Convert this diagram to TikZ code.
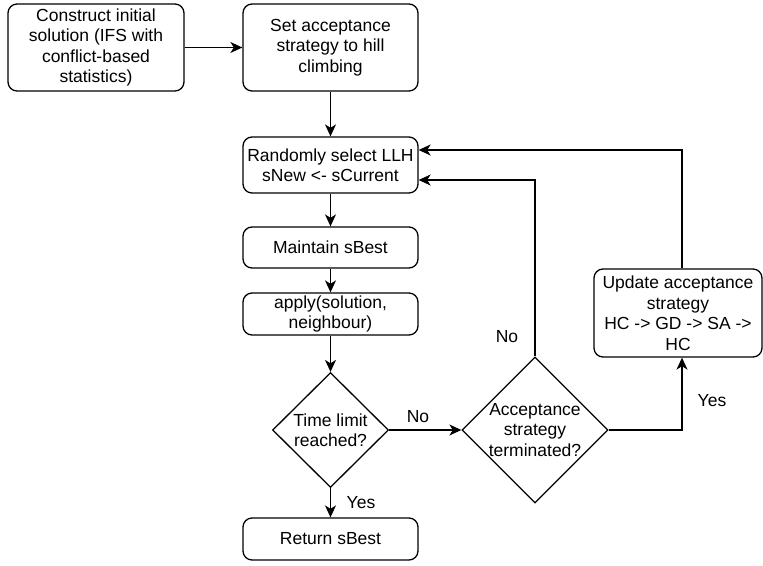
\documentclass[tikz,border=0pt]{standalone}
\usepackage{fontspec}
\setmainfont{Liberation Sans}
\usetikzlibrary{shapes.geometric,arrows.meta}
\begin{document}
\begin{tikzpicture}[x=1pt,y=-1pt,
  every node/.style={font=\fontsize{17.5}{20.5}\selectfont, inner sep=0pt},
  box/.style={draw, line width=1.3pt, rounded corners=9pt, align=center, minimum width=175pt},
  dia/.style={draw, line width=1.3pt, diamond, inner sep=0pt},
  arr/.style={draw, line width=1.3pt, -{Stealth[length=12pt,width=11pt,inset=3.5pt]}},
  lbl/.style={font=\fontsize{17.5}{20.5}\selectfont}]
\useasboundingbox (0,0) rectangle (763,565);

\node[box, minimum width=176pt, minimum height=87pt] (init) at (96,47.5) {Construct initial\\solution (IFS with\\conflict-based\\statistics)};
\node[box, minimum height=87pt] (setacc) at (330.5,47.5) {Set acceptance\\strategy to hill\\climbing};
\node[box, minimum height=56pt] (rand) at (330.5,165) {Randomly select LLH\\sNew <- sCurrent};
\node[box, minimum height=41pt] (maint) at (330.5,247.5) {Maintain sBest};
\node[box, minimum height=42pt] (apply) at (330.5,314) {apply(solution,\\neighbour)};
\node[dia, minimum width=116pt, minimum height=115pt] (time) at (330.5,430) {};
\node[align=center] (timet) at (330.5,430) {Time limit\\reached?};
\node[dia, minimum width=146pt, minimum height=146pt] (acc) at (535,430) {};
\node[align=center] (acct) at (535,430) {Acceptance\\strategy\\terminated?};
\node[box, minimum height=42pt] (ret) at (330.5,539) {Return sBest};
\node[box, minimum width=168pt, minimum height=88pt] (update) at (678,313) {Update acceptance\\strategy\\HC -> GD -> SA ->\\HC};

\coordinate (ux) at (682,150);
\coordinate (ry) at (535,180);

\draw[arr] (init.east) -- (setacc.west);
\draw[arr] (setacc.south) -- (rand.north);
\draw[arr] (rand.south) -- (maint.north);
\draw[arr] (maint.south) -- (apply.north);
\draw[arr] (apply.south) -- (time.north);
\draw[arr] (time.south) -- (ret.north);
\draw[arr] (time.east) -- (acc.west);
\draw[arr] (acc.east) -| (update.south -| ux);
\draw[arr] (update.north -| ux) |- (rand.east |- ux);
\draw[arr] (acc.north) |- (rand.east |- ry);

\node[lbl] (no1) at (418,417) {No};
\node[lbl] (no2) at (507,337) {No};
\node[lbl] (yes1) at (712,401) {Yes};
\node[lbl] (yes2) at (361,503) {Yes};
\end{tikzpicture}
\end{document}
